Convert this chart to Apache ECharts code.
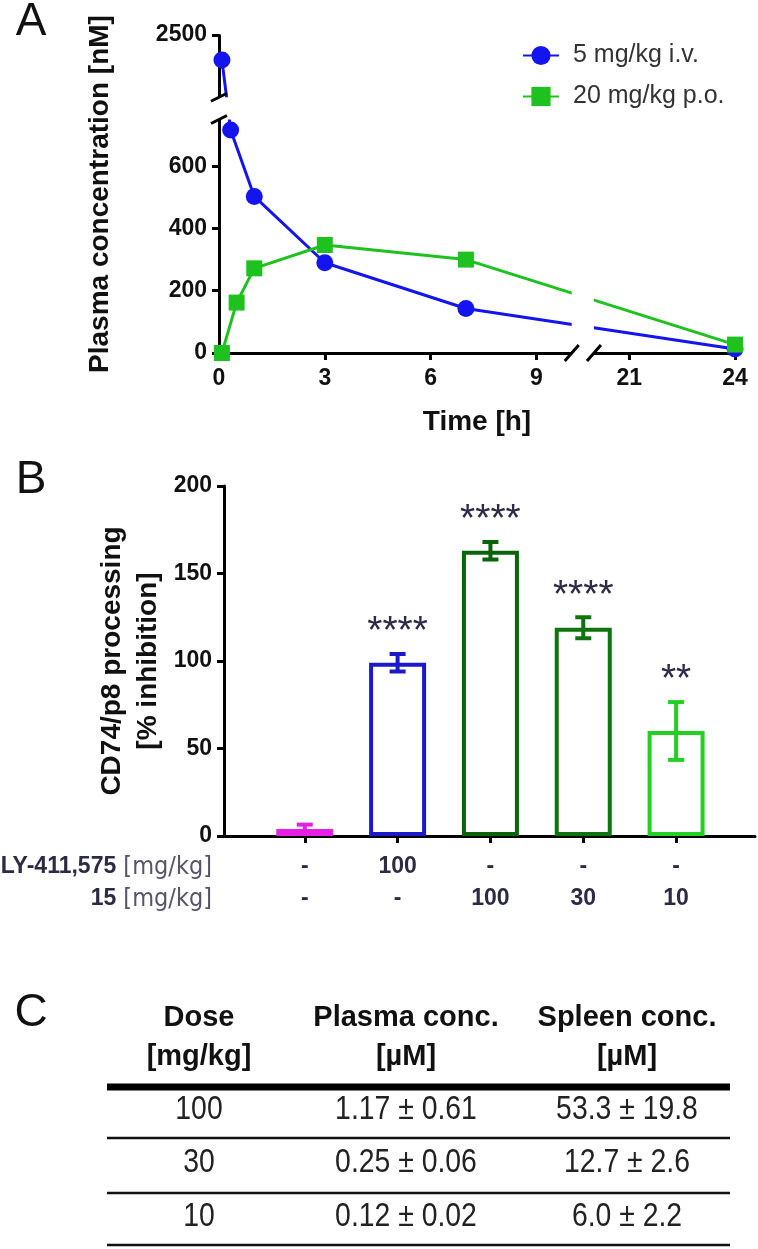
<!DOCTYPE html>
<html>
<head>
<meta charset="utf-8">
<script src="https://cdn.jsdelivr.net/npm/echarts@6.0.0/dist/echarts.min.js"></script>
<style>
  html, body { margin: 0; padding: 0; background: #fff; }
  #chart { width: 758px; height: 1249px; }
</style>
</head>
<body>
<div id="chart"></div>
<script>
// panel A - plasma concentration vs time
var ivTime = [0.083, 0.33, 1, 3, 7, 24];
var ivConc = [2420, 716, 503, 290, 143, 13];
var poTime = [0.083, 0.5, 1, 3, 7, 24];
var poConc = [0, 162, 272, 347, 300, 27];
var timeTicks = [0, 3, 6, 9, 21, 24];
var concTicks = [0, 200, 400, 600, 2500];

// panel B - CD74/p8 processing
var groupPos = [0, 1, 2, 3, 4];
var inhibMean = [4, 99, 163, 119, 60];
var inhibSem = [2.5, 5, 5, 6, 16.5];
var stars = ['', '****', '****', '****', '**'];
var lyDose = ['-', '100', '-', '-', '-'];
var cpdDose = ['-', '-', '100', '30', '10'];
var barColors = ['#e61ee6', '#1a1acc', '#0b640b', '#107310', '#22cf22'];

// panel C - table
var tableHead = [['Dose', '[mg/kg]'], ['Plasma conc.', '[µM]'], ['Spleen conc.', '[µM]']];
var tableDose = ['100', '30', '10'];
var tablePlasma = ['1.17 ± 0.61', '0.25 ± 0.06', '0.12 ± 0.02'];
var tableSpleen = ['53.3 ± 19.8', '12.7 ± 2.6', '6.0 ± 2.2'];

var FONT = "'Liberation Sans', Arial, sans-serif";
var NARROW = "'Liberation Sans Narrow', 'DejaVu Sans Condensed', sans-serif";
var BLUE = '#1414f0';
var GREEN = '#1ec21e';
var INK = '#2b2b45';

function pairs(xs, ys) {
  return xs.map(function (x, i) { return [x, ys[i]]; });
}

var axisLine = { show: true, onZero: false, lineStyle: { color: '#000', width: 3 } };
var axisTick = { show: true, length: 7, lineStyle: { color: '#000', width: 3 } };
var tickFont = { fontFamily: FONT, fontWeight: 'bold', fontSize: 23, color: '#111' };

// static graphic: panel letters, row headers of B, table C
var staticGraphic = [];
[['A', 22], ['B', 480], ['C', 1013]].forEach(function (p) {
  staticGraphic.push({
    type: 'text', x: 31, y: p[1],
    style: { text: p[0], fontFamily: FONT, fontSize: 46, fill: '#111', align: 'center', verticalAlign: 'middle' }
  });
});
[['LY-411,575', 867], ['15', 899]].forEach(function (r) {
  staticGraphic.push({
    type: 'text', x: 212, y: r[1],
    style: {
      text: '{b|' + r[0] + '}{r| [mg/kg]}', align: 'right', verticalAlign: 'middle',
      rich: {
        b: { fontFamily: FONT, fontWeight: 'bold', fontSize: 23, fill: INK },
        r: { fontFamily: NARROW, fontSize: 25, fill: '#555566' }
      }
    }
  });
});

var colX = [199, 406, 627];
tableHead.forEach(function (h, c) {
  h.forEach(function (line, k) {
    staticGraphic.push({
      type: 'text', x: colX[c], y: k === 0 ? 1018 : 1057,
      style: { text: line, fontFamily: FONT, fontWeight: 'bold', fontSize: 29, fill: '#111', align: 'center', verticalAlign: 'middle' }
    });
  });
});
var rowY = [1110, 1163, 1217];
var ruleY = [1138, 1193, 1245];
tableDose.forEach(function (d, r) {
  [d, tablePlasma[r], tableSpleen[r]].forEach(function (cell, c) {
    staticGraphic.push({
      type: 'text', x: colX[c], y: rowY[r], scaleX: 0.86,
      style: { text: cell, fontFamily: FONT, fontSize: 33, fill: '#222', align: 'center', verticalAlign: 'middle' }
    });
  });
  staticGraphic.push({
    type: 'line', shape: { x1: 107, y1: ruleY[r], x2: 730, y2: ruleY[r] },
    style: { stroke: '#111', lineWidth: 2.5 }
  });
});
staticGraphic.push({
  type: 'line', shape: { x1: 107, y1: 1087, x2: 730, y2: 1087 },
  style: { stroke: '#000', lineWidth: 7 }
});

var chart = echarts.init(document.getElementById('chart'), null, { renderer: 'canvas' });

var option = {
  animation: false,
  backgroundColor: '#fff',
  textStyle: { fontFamily: FONT },
  legend: {
    orient: 'vertical', left: 517, top: 38, itemGap: 16,
    itemWidth: 36, itemHeight: 24,
    textStyle: { fontFamily: FONT, fontSize: 25, color: '#333', padding: [0, 0, 0, 9] },
    data: ['5 mg/kg i.v.', '20 mg/kg p.o.']
  },
  grid: [
    { left: 219, top: 35, width: 516, height: 318, outerBoundsMode: 'none', containLabel: false },
    { left: 224, top: 486, width: 531, height: 350, outerBoundsMode: 'none', containLabel: false }
  ],
  xAxis: [
    {
      type: 'value', gridIndex: 0, min: 0, max: 24,
      breaks: [{ start: 10, end: 20, gap: '4.3%' }],
      breakArea: { show: false },
      splitLine: { show: false },
      axisLine: axisLine, axisTick: Object.assign({ customValues: timeTicks }, axisTick),
      axisLabel: Object.assign({ customValues: timeTicks, margin: 14 }, tickFont),
      name: 'Time [h]', nameLocation: 'middle', nameGap: 55, nameMoveOverlap: false,
      nameTextStyle: { fontFamily: FONT, fontWeight: 'bold', fontSize: 28, color: '#111' }
    },
    {
      type: 'value', gridIndex: 1, min: -0.87, max: 4.85,
      splitLine: { show: false },
      axisLine: axisLine, axisTick: Object.assign({ customValues: groupPos }, axisTick),
      axisLabel: {
        customValues: groupPos, margin: 15,
        formatter: function (v) {
          var i = Math.round(v);
          return '{v|' + lyDose[i] + '}\n{v|' + cpdDose[i] + '}';
        },
        rich: { v: { fontFamily: FONT, fontWeight: 'bold', fontSize: 23, lineHeight: 32, color: INK } }
      }
    }
  ],
  yAxis: [
    {
      type: 'value', gridIndex: 0, min: 0, max: 2500,
      breaks: [{ start: 750, end: 2300, gap: '7%' }],
      breakArea: { show: false },
      splitLine: { show: false },
      axisLine: axisLine, axisTick: Object.assign({ customValues: concTicks }, axisTick),
      axisLabel: Object.assign({ customValues: concTicks, margin: 12, formatter: function (v) { return String(v); } }, tickFont),
      name: 'Plasma concentration [nM]', nameLocation: 'middle', nameGap: 105, nameMoveOverlap: false,
      nameTextStyle: { fontFamily: FONT, fontWeight: 'bold', fontSize: 28, color: '#111' }
    },
    {
      type: 'value', gridIndex: 1, min: 0, max: 200, interval: 50,
      splitLine: { show: false },
      axisLine: axisLine, axisTick: axisTick,
      axisLabel: Object.assign({ margin: 12 }, tickFont),
      name: 'CD74/p8 processing\n[% inhibition]', nameLocation: 'middle', nameGap: 58, nameMoveOverlap: false,
      nameTextStyle: { fontFamily: FONT, fontWeight: 'bold', fontSize: 28, lineHeight: 36, color: '#111' }
    }
  ],
  series: [
    {
      name: '5 mg/kg i.v.', type: 'line', xAxisIndex: 0, yAxisIndex: 0, z: 3,
      data: pairs(ivTime, ivConc), symbol: 'circle', symbolSize: 17, clip: false,
      lineStyle: { color: BLUE, width: 3 }, itemStyle: { color: BLUE }
    },
    {
      name: '20 mg/kg p.o.', type: 'line', xAxisIndex: 0, yAxisIndex: 0, z: 3,
      data: pairs(poTime, poConc), symbol: 'rect', symbolSize: 16, clip: false,
      lineStyle: { color: GREEN, width: 3 }, itemStyle: { color: GREEN }
    },
    {
      type: 'bar', xAxisIndex: 1, yAxisIndex: 1, barWidth: 57, z: 3,
      data: groupPos.map(function (x, i) {
        return { value: [x, inhibMean[i]], itemStyle: { color: '#fff', borderColor: barColors[i], borderWidth: 4 } };
      })
    },
    {
      type: 'custom', xAxisIndex: 1, yAxisIndex: 1, z: 4,
      data: groupPos.map(function (x, i) { return [x, inhibMean[i], inhibSem[i]]; }),
      renderItem: function (params, api) {
        var i = params.dataIndex;
        var hi = api.coord([api.value(0), api.value(1) + api.value(2)]);
        var lo = api.coord([api.value(0), api.value(1) - api.value(2)]);
        var st = { stroke: barColors[i], lineWidth: 4 };
        return {
          type: 'group', children: [
            { type: 'line', shape: { x1: hi[0], y1: hi[1], x2: lo[0], y2: lo[1] }, style: st },
            { type: 'line', shape: { x1: hi[0] - 8, y1: hi[1], x2: hi[0] + 8, y2: hi[1] }, style: st },
            { type: 'line', shape: { x1: lo[0] - 8, y1: lo[1], x2: lo[0] + 8, y2: lo[1] }, style: st },
            {
              type: 'text', x: hi[0], y: hi[1] - 2,
              style: { text: stars[i], fontFamily: FONT, fontSize: 39, fill: INK, align: 'center', verticalAlign: 'bottom' }
            }
          ]
        };
      }
    }
  ],
  graphic: { elements: staticGraphic }
};

chart.setOption(option);

// axis break marks for panel A, placed through the axis scales
var org = chart.convertToPixel({ gridIndex: 0 }, [0, 0]);
var bLo = chart.convertToPixel({ gridIndex: 0 }, [10, 750]);
var bHi = chart.convertToPixel({ gridIndex: 0 }, [20, 2300]);
var yCut = chart.convertToPixel({ gridIndex: 0 }, [0, 550])[1];
var marks = [
  { type: 'rect', z: 10, shape: { x: org[0] - 8, y: bHi[1], width: 50, height: bLo[1] - bHi[1] }, style: { fill: '#fff' } },
  { type: 'rect', z: 10, shape: { x: bLo[0], y: yCut, width: bHi[0] - bLo[0], height: org[1] - yCut + 8 }, style: { fill: '#fff' } }
];
[bHi[1], bLo[1]].forEach(function (y) {
  marks.push({ type: 'line', z: 11, shape: { x1: org[0] - 8, y1: y + 4, x2: org[0] + 8, y2: y - 4 }, style: { stroke: '#000', lineWidth: 3 } });
});
[bLo[0], bHi[0]].forEach(function (x) {
  marks.push({ type: 'line', z: 11, shape: { x1: x - 7, y1: org[1] + 8, x2: x + 7, y2: org[1] - 8 }, style: { stroke: '#000', lineWidth: 3 } });
});
chart.setOption({ graphic: { elements: staticGraphic.concat(marks) } });
</script>
</body>
</html>
